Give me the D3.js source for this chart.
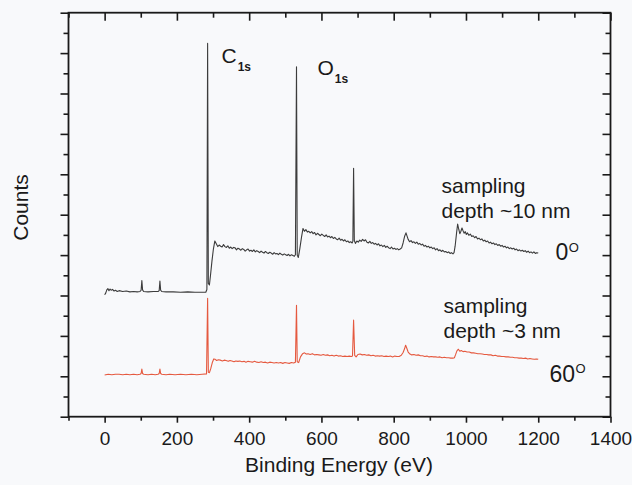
<!DOCTYPE html>
<html>
<head>
<meta charset="utf-8">
<script src="https://cdn.jsdelivr.net/npm/d3@7"></script>
<style>
  html, body { margin: 0; padding: 0; background: #f8f9fb; }
  svg { display: block; }
  text { font-family: "Liberation Sans", Arial, Helvetica, sans-serif; fill: #1a1a1a; }
</style>
</head>
<body>
<svg id="chart" width="632" height="485"></svg>
<script>
// ---------- data ----------
const xMajorTicks = [0, 200, 400, 600, 800, 1000, 1200, 1400];
const xMinorTicks = [-100, 100, 300, 500, 700, 900, 1100, 1300];
const yMajorTicks = [0, 10, 20, 30, 40, 50, 60, 70, 80, 90, 100];
const yMinorTicks = [5, 15, 25, 35, 45, 55, 65, 75, 85, 95];

// 0 degree take-off (black), [binding energy eV, counts a.u.]
const spectrum0 = [
  [0,30.2],[3,30.6],[6,31.4],[9,31.7],[12,31.2],[15,31.6],[18,31.3],[22,31.5],[26,31.1],[30,31.3],
  [35,31.0],[40,31.2],[50,31.0],[60,31.1],[70,30.9],[80,31.0],[90,30.9],[98,31.0],[101,31.3],[103,33.7],
  [105,31.4],[108,31.0],[120,30.9],[135,31.0],[148,31.0],[151,31.2],[153,33.6],[155,31.3],[158,31.0],[170,30.9],
  [190,30.9],[210,30.8],[230,30.9],[250,30.8],[270,30.8],[280,30.8],[283,31.5],[285,92.4],[287,33.0],[290,32.6],
  [293,35.0],[297,38.5],[301,41.5],[305,43.5],[309,42.8],[313,42.1],[317,42.5],[321,42.2],[325,42.0],[329,42.6],
  [333,42.1],[337,41.9],[341,42.3],[345,41.7],[349,42.0],[353,41.6],[357,41.9],[361,41.8],[365,41.3],[369,41.7],
  [373,41.5],[377,41.2],[381,41.6],[385,41.4],[389,41.0],[393,41.3],[397,41.5],[401,41.0],[405,41.2],[409,40.9],
  [413,41.3],[417,40.8],[421,41.1],[425,40.9],[429,40.6],[433,41.0],[437,40.7],[441,40.5],[445,40.9],[449,40.6],
  [453,40.4],[457,40.7],[461,40.5],[465,40.2],[469,40.6],[473,40.3],[477,40.4],[481,40.1],[485,40.5],[489,40.2],
  [493,40.0],[497,40.3],[501,40.1],[505,39.9],[509,40.2],[513,39.8],[517,40.1],[521,39.9],[525,39.7],[528,40.1],
  [531,86.6],[533,40.0],[536,39.4],[540,41.5],[545,44.5],[549,46.6],[553,45.9],[557,46.3],[561,45.7],[565,45.9],
  [569,45.5],[573,45.8],[577,45.3],[581,45.6],[585,45.0],[589,45.4],[593,45.1],[597,44.8],[601,45.2],[605,44.9],
  [609,44.6],[613,45.0],[617,44.5],[621,44.7],[625,44.3],[629,44.6],[633,44.1],[637,44.4],[641,44.0],[645,43.8],
  [649,44.2],[653,43.7],[657,43.9],[661,43.5],[665,43.8],[669,43.3],[673,43.5],[677,43.1],[681,43.3],[685,43.0],
  [687,43.4],[689,61.5],[691,43.6],[694,42.9],[698,43.5],[702,43.2],[706,43.7],[710,43.4],[714,43.9],[718,43.5],
  [722,43.8],[726,43.2],[730,43.0],[734,43.4],[738,42.9],[742,43.1],[746,42.7],[750,42.9],[754,42.5],[758,42.8],
  [762,42.3],[766,42.5],[770,42.1],[774,42.4],[778,41.9],[782,42.2],[786,41.8],[790,41.6],[794,42.0],[798,41.5],
  [802,41.7],[806,41.4],[810,41.6],[814,41.3],[818,41.5],[822,41.8],[826,43.0],[830,44.6],[834,45.5],[837,44.7],
  [840,43.9],[844,43.3],[848,43.6],[852,43.1],[856,43.3],[860,42.9],[864,43.2],[868,42.7],[872,42.9],[876,42.5],
  [880,42.7],[884,42.2],[888,42.4],[892,42.0],[896,42.2],[900,41.8],[904,42.0],[908,41.6],[912,41.8],[916,41.3],
  [920,41.6],[924,41.1],[928,41.3],[932,40.9],[936,41.2],[940,40.8],[944,40.9],[948,40.6],[952,40.8],[956,40.4],
  [960,40.6],[964,40.3],[967,40.6],[970,42.2],[974,45.5],[977,47.7],[980,46.4],[983,45.3],[986,45.9],[989,46.7],
  [992,46.0],[995,45.4],[998,45.8],[1001,45.1],[1004,45.5],[1008,44.9],[1012,45.2],[1016,44.6],[1020,44.8],[1024,44.3],
  [1028,44.6],[1032,44.0],[1036,44.2],[1040,43.8],[1044,44.0],[1048,43.5],[1052,43.7],[1056,43.3],[1060,43.5],[1064,43.0],
  [1068,43.2],[1072,42.8],[1076,43.0],[1080,42.6],[1084,42.8],[1088,42.4],[1092,42.6],[1096,42.2],[1100,42.4],[1104,42.0],
  [1108,42.2],[1112,41.8],[1116,42.0],[1120,41.6],[1124,41.8],[1128,41.5],[1132,41.7],[1136,41.3],[1140,41.5],[1144,41.1],
  [1148,41.3],[1152,41.0],[1156,41.2],[1160,40.9],[1164,41.1],[1168,40.7],[1172,41.0],[1176,40.6],[1180,40.8],[1184,40.5],
  [1188,40.8],[1192,40.4],[1196,40.6],[1200,40.5]
];

// 60 degree take-off (red)
const spectrum60 = [
  [0,10.3],[10,10.5],[20,10.4],[30,10.5],[40,10.5],[50,10.4],[60,10.5],[70,10.4],[80,10.5],[90,10.4],
  [98,10.5],[101,10.7],[103,11.8],[105,10.7],[108,10.5],[120,10.4],[130,10.5],[140,10.4],[148,10.5],[151,10.7],
  [153,11.8],[155,10.7],[158,10.5],[170,10.4],[180,10.5],[195,10.4],[210,10.5],[225,10.4],[240,10.5],[255,10.4],
  [270,10.5],[282,10.6],[285,29.3],[287,11.0],[290,10.9],[294,12.0],[298,13.4],[302,14.3],[306,14.2],[310,13.9],
  [315,14.1],[320,14.0],[326,13.8],[331,14.0],[336,13.9],[342,13.7],[347,13.9],[352,13.8],[358,13.6],[363,13.8],
  [369,13.7],[374,13.8],[380,13.6],[386,13.7],[391,13.5],[397,13.7],[403,13.6],[409,13.5],[415,13.7],[421,13.5],
  [427,13.4],[433,13.6],[439,13.4],[445,13.5],[451,13.3],[457,13.5],[463,13.4],[469,13.3],[475,13.4],[481,13.3],
  [487,13.4],[493,13.2],[499,13.4],[505,13.3],[511,13.2],[517,13.4],[523,13.3],[528,13.5],[531,27.6],[533,13.6],
  [537,13.4],[542,14.8],[548,15.6],[553,15.8],[558,15.5],[563,15.6],[569,15.4],[575,15.6],[581,15.3],[587,15.4],
  [593,15.3],[599,15.2],[605,15.4],[611,15.2],[617,15.3],[623,15.1],[629,15.2],[635,15.0],[641,15.2],[647,15.0],
  [653,15.1],[659,14.9],[665,15.0],[671,14.9],[677,15.0],[683,14.9],[686,15.0],[689,23.9],[692,15.2],[696,14.8],
  [701,15.4],[707,15.5],[713,15.3],[719,15.4],[725,15.2],[731,15.3],[737,15.1],[743,15.2],[749,15.0],[755,15.1],
  [761,15.0],[767,15.1],[773,14.9],[779,15.0],[785,14.9],[791,15.0],[797,14.8],[803,15.0],[809,14.9],[815,14.9],
  [821,15.2],[826,15.9],[830,16.8],[833,17.7],[836,17.0],[840,16.0],[845,15.5],[850,15.3],[856,15.4],[862,15.2],
  [868,15.3],[874,15.1],[880,15.1],[886,14.9],[892,15.0],[898,14.8],[904,14.9],[910,14.8],[916,14.8],[922,14.7],
  [928,14.8],[934,14.6],[940,14.7],[946,14.6],[952,14.6],[958,14.5],[964,14.5],[968,14.6],[971,15.3],[975,16.3],
  [979,16.7],[983,16.2],[987,16.4],[992,16.1],[997,16.2],[1003,16.0],[1009,16.0],[1015,15.8],[1021,15.8],[1027,15.7],
  [1033,15.6],[1039,15.6],[1045,15.5],[1051,15.4],[1057,15.4],[1063,15.3],[1069,15.3],[1075,15.1],[1081,15.2],[1087,15.0],
  [1093,15.0],[1099,14.9],[1105,14.9],[1111,14.8],[1117,14.8],[1123,14.7],[1129,14.7],[1135,14.6],[1141,14.6],[1147,14.5],
  [1153,14.5],[1159,14.4],[1165,14.5],[1171,14.3],[1177,14.4],[1183,14.3],[1189,14.2],[1195,14.3],[1200,14.2]
];

// ---------- layout ----------
const svg = d3.select("#chart");
const L = 68.5, R = 610.5, T = 12.7, B = 416.7;

const x = d3.scaleLinear().domain([-100, 1400]).range([L, R]);
const y = d3.scaleLinear().domain([0, 100]).range([B, T]);

const axisColor = "#1a1a1a";
function styleAxis(g) {
  g.select(".domain").remove();
  g.selectAll(".tick line").attr("stroke", axisColor).attr("stroke-width", 1.6);
}

// bottom axis (outward ticks + labels)
svg.append("g").attr("transform", `translate(0,${B})`)
  .call(d3.axisBottom(x).tickValues(xMajorTicks).tickSize(6).tickPadding(9).tickFormat(d3.format("d")))
  .call(styleAxis)
  .call(g => g.selectAll(".tick text").attr("font-size", 19).attr("fill", "#1a1a1a")
     .attr("font-family", '"Liberation Sans", Arial, sans-serif'));
svg.append("g").attr("transform", `translate(0,${B})`)
  .call(d3.axisBottom(x).tickValues(xMinorTicks).tickSize(4).tickFormat(""))
  .call(styleAxis);

// top axis (inward ticks)
svg.append("g").attr("transform", `translate(0,${T})`)
  .call(d3.axisBottom(x).tickValues(xMajorTicks).tickSize(8).tickFormat(""))
  .call(styleAxis);
svg.append("g").attr("transform", `translate(0,${T})`)
  .call(d3.axisBottom(x).tickValues(xMinorTicks).tickSize(5).tickFormat(""))
  .call(styleAxis);

// left axis (outward ticks, no labels)
svg.append("g").attr("transform", `translate(${L},0)`)
  .call(d3.axisLeft(y).tickValues(yMajorTicks).tickSize(8).tickFormat(""))
  .call(styleAxis);
svg.append("g").attr("transform", `translate(${L},0)`)
  .call(d3.axisLeft(y).tickValues(yMinorTicks).tickSize(5).tickFormat(""))
  .call(styleAxis);

// right axis (inward ticks)
svg.append("g").attr("transform", `translate(${R},0)`)
  .call(d3.axisLeft(y).tickValues(yMajorTicks).tickSize(8).tickFormat(""))
  .call(styleAxis);
svg.append("g").attr("transform", `translate(${R},0)`)
  .call(d3.axisLeft(y).tickValues(yMinorTicks).tickSize(5).tickFormat(""))
  .call(styleAxis);

// frame
svg.append("rect").attr("x", L).attr("y", T).attr("width", R - L).attr("height", B - T)
  .attr("fill", "none").attr("stroke", axisColor).attr("stroke-width", 1.8);

// spectra
const line = d3.line().x(d => x(d[0])).y(d => y(d[1]));
svg.append("path").datum(spectrum0).attr("d", line)
  .attr("fill", "none").attr("stroke", "#3c3c3c").attr("stroke-width", 1.1).attr("stroke-linejoin", "round");
svg.append("path").datum(spectrum60).attr("d", line)
  .attr("fill", "none").attr("stroke", "#e5593f").attr("stroke-width", 1.1).attr("stroke-linejoin", "round");

// axis titles
svg.append("text").attr("x", 339).attr("y", 471.5).attr("text-anchor", "middle")
  .attr("font-size", 21).text("Binding Energy (eV)");
svg.append("text").attr("transform", "translate(28,207.5) rotate(-90)").attr("text-anchor", "middle")
  .attr("font-size", 21).text("Counts");

// peak labels
function peakLabel(px, py, main, sub, subDy) {
  const t = svg.append("text").attr("x", px).attr("y", py).attr("font-size", 21);
  t.append("tspan").text(main);
  t.append("tspan").attr("dx", 1).attr("dy", subDy).attr("font-size", 12).attr("font-weight", "bold").text(sub);
}
peakLabel(221.5, 62.5, "C", "1s", 8.2);
peakLabel(317.5, 74.5, "O", "1s", 8.5);

// sampling-depth annotations
function twoLine(px, py1, py2, l1, l2) {
  svg.append("text").attr("x", px).attr("y", py1).attr("font-size", 21).text(l1);
  svg.append("text").attr("x", px).attr("y", py2).attr("font-size", 21).text(l2);
}
twoLine(441.5, 193.3, 218.3, "sampling", "depth ~10 nm");
twoLine(443.5, 312.5, 337.5, "sampling", "depth ~3 nm");

// angle labels
function angle(px, py, txt) {
  const t = svg.append("text").attr("x", px).attr("y", py).attr("font-size", 23);
  t.append("tspan").text(txt);
  t.append("tspan").attr("dy", -8.5).attr("dx", 0.5).attr("font-size", 13).text("O");
}
angle(555.5, 260, "0");
angle(549.5, 381.5, "60");
</script>
</body>
</html>
